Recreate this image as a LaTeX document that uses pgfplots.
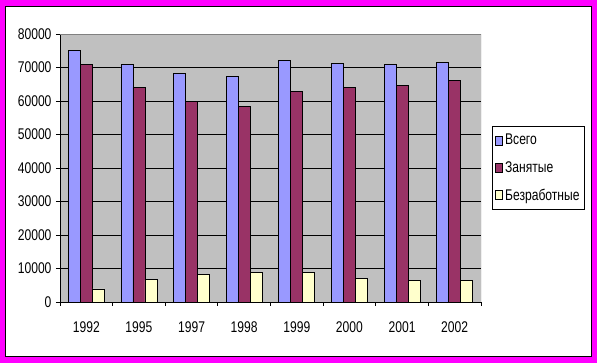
\documentclass[border=0pt]{standalone}
\usepackage{pgfplots}
\pgfplotsset{compat=1.18}
\usepackage{fontspec}
\setmainfont{Liberation Sans}[FakeStretch=0.78]
\definecolor{cblue}{HTML}{9999FF}
\definecolor{cmaroon}{HTML}{993366}
\definecolor{cyellow}{HTML}{FFFFCC}
\definecolor{plotgray}{HTML}{C0C0C0}
\definecolor{cmag}{HTML}{FF00FF}
\begin{document}
\begin{tikzpicture}[font=\fontsize{15.5}{18}\selectfont]
\path[use as bounding box] (0pt,0pt) rectangle (597pt,363pt);
\fill[cmag] (0pt,0pt) rectangle (597pt,363pt);
\filldraw[fill=white,draw=black,line width=1pt] (5.5pt,6pt) rectangle (591.5pt,356.5pt);
\begin{axis}[at={(60pt,61pt)}, anchor=south west, scale only axis,
  width=421pt, height=268pt,
  ybar=0pt, bar width=12pt,
  xmin=-0.5, xmax=7.5, ymin=0, ymax=80000,
  xtick={-0.5,0.5,...,7.5}, x tick label as interval,
  xticklabels={1992,1995,1997,1998,1999,2000,2001,2002},
  ytick={0,10000,...,80000},
  scaled y ticks=false,
  yticklabel style={/pgf/number format/1000 sep={}, /pgf/number format/assume math mode=true, xshift=-1pt},
  xticklabel style={yshift=-12pt},
  tick align=outside, major tick length=4pt,
  tick style={black, line width=0.8pt},
  axis x line*=bottom, axis y line*=left,
  axis line style={black, line width=0.8pt, -},
  axis background/.style={fill=plotgray},
  ymajorgrids, grid style={black, line width=0.8pt},
  legend style={at={(1.026,0.657)}, anchor=north west, draw=black, fill=white,
    line width=0.8pt, inner xsep=3pt, inner ysep=6pt, row sep=11pt,
    font=\fontsize{15.5}{18}\selectfont},
  legend cell align=left,
  legend image code/.code={\draw[#1,draw=black,line width=0.8pt] (0pt,-4.5pt) rectangle (7pt,4.5pt);},
]
\addplot[fill=cblue, draw=black, line width=0.8pt] coordinates {(0,75000) (1,71000) (2,68300) (3,67400) (4,72100) (5,71300) (6,71000) (7,71600)};
\addplot[fill=cmaroon, draw=black, line width=0.8pt] coordinates {(0,70900) (1,64100) (2,59900) (3,58400) (4,62900) (5,64100) (6,64700) (7,66000)};
\addplot[fill=cyellow, draw=black, line width=0.8pt] coordinates {(0,3900) (1,6600) (2,8300) (3,8900) (4,8900) (5,7100) (6,6300) (7,6300)};
\legend{Всего, Занятые, Безработные}
\draw[gray, line width=0.8pt] (rel axis cs:0,1) -- (rel axis cs:1,1) -- (rel axis cs:1,0);
\end{axis}
\end{tikzpicture}
\end{document}
